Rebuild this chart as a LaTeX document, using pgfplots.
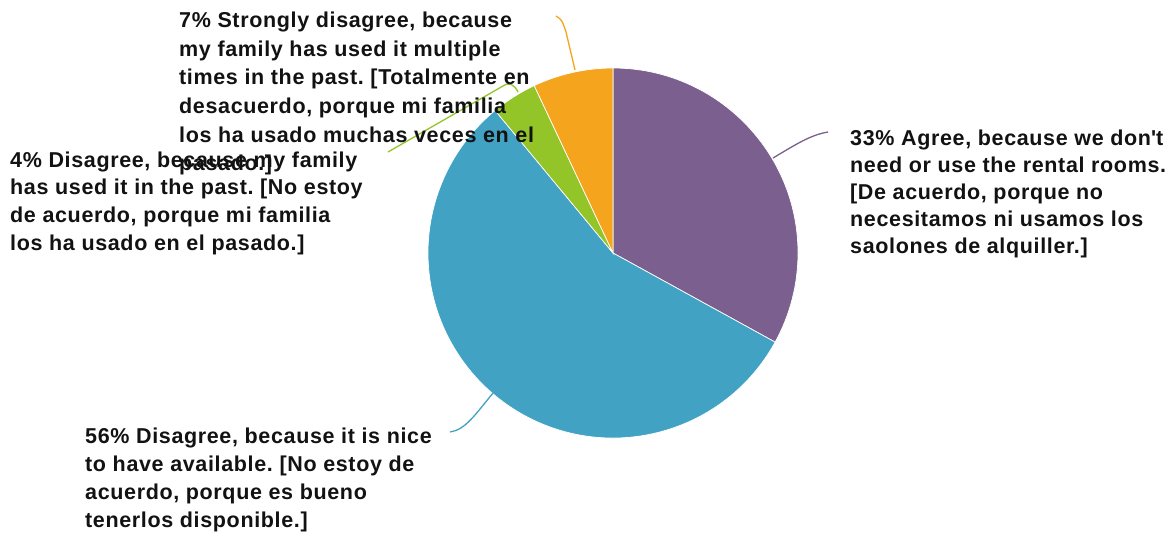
\documentclass[border=0pt]{standalone}
\usepackage{pgfplots}
\pgfplotsset{compat=1.18}
\usepackage{pgfplotstable}
\usepackage{fontspec}
\setmainfont{Liberation Sans}[LetterSpace=3]
\frenchspacing

\definecolor{pieP}{RGB}{123,95,142}
\definecolor{pieB}{RGB}{65,162,195}
\definecolor{pieG}{RGB}{147,197,41}
\definecolor{pieO}{RGB}{244,164,29}

% shares in percent, clockwise from 12 o'clock
\pgfplotstableread{
share
33
56
4
7
}\piedata

\pgfplotstablegetelem{0}{share}\of\piedata \let\pA\pgfplotsretval
\pgfplotstablegetelem{1}{share}\of\piedata \let\pB\pgfplotsretval
\pgfplotstablegetelem{2}{share}\of\piedata \let\pC\pgfplotsretval
\pgfplotstablegetelem{3}{share}\of\piedata \let\pD\pgfplotsretval
\pgfmathsetmacro\aA{90-3.6*\pA}
\pgfmathsetmacro\aB{\aA-3.6*\pB}
\pgfmathsetmacro\aC{\aB-3.6*\pC}
\pgfmathsetmacro\aD{\aC-3.6*\pD}

\newcommand\lbl[3]{\node[anchor=base west, inner sep=0, text=black!93] at (axis cs:#1,#2) {#3};}

\begin{document}
\begin{tikzpicture}
\begin{axis}[
  hide axis, scale only axis,
  width=1174bp, height=537bp,
  xmin=0, xmax=1174, ymin=0, ymax=537,
  y dir=reverse, clip=false,
  font=\bfseries\fontsize{21.5bp}{27.5bp}\selectfont
]
\addplot[draw=none] coordinates {(613,253)};

% slices
\filldraw[pieP, draw=white, line width=0.7bp] (axis cs:613,253) -- ++(90:185bp) arc[start angle=90, end angle=\aA, radius=185bp] -- cycle;
\filldraw[pieB, draw=white, line width=0.7bp] (axis cs:613,253) -- ++(\aA:185bp) arc[start angle=\aA, end angle=\aB, radius=185bp] -- cycle;
\filldraw[pieG, draw=white, line width=0.7bp] (axis cs:613,253) -- ++(\aB:185bp) arc[start angle=\aB, end angle=\aC, radius=185bp] -- cycle;
\filldraw[pieO, draw=white, line width=0.7bp] (axis cs:613,253) -- ++(\aC:185bp) arc[start angle=\aC, end angle=\aD, radius=185bp] -- cycle;

% leader lines
\draw[pieP, line width=1.3bp] (axis cs:773,158) .. controls (axis cs:795,145) and (axis cs:810,135) .. (axis cs:828,132);
\draw[pieB, line width=1.3bp] (axis cs:493,393) .. controls (axis cs:475,415) and (axis cs:465,430) .. (axis cs:450,432);
\draw[pieG, line width=1.3bp] (axis cs:518,92) .. controls (axis cs:514,84) and (axis cs:509,82) .. (axis cs:503,86) -- (axis cs:388,152);
\draw[pieO, line width=1.3bp] (axis cs:575,70) -- (axis cs:566,32) .. controls (axis cs:562,20) .. (axis cs:556,16);

% labels
\lbl{850}{145}{33\% Agree, because we don\textquotesingle t}
\lbl{850}{172}{need or use the rental rooms.}
\lbl{850}{199}{[De acuerdo, porque no}
\lbl{850}{226}{necesitamos ni usamos los}
\lbl{850}{253}{saolones de alquiller.]}

\lbl{85}{443}{56\% Disagree, because it is nice}
\lbl{85}{471}{to have available. [No estoy de}
\lbl{85}{499}{acuerdo, porque es bueno}
\lbl{85}{527}{tenerlos disponible.]}

\lbl{10}{167}{4\% Disagree, because my family}
\lbl{10}{194}{has used it in the past. [No estoy}
\lbl{10}{222}{de acuerdo, porque mi familia}
\lbl{10}{250}{los ha usado en el pasado.]}

\lbl{179}{28}{7\% Strongly disagree, because}
\lbl{179}{57}{my family has used it multiple}
\lbl{179}{85}{times in the past. [Totalmente en}
\lbl{179}{113}{desacuerdo, porque mi familia}
\lbl{179}{142}{los ha usado muchas veces en el}
\lbl{179}{170}{pasado.]}
\end{axis}
\pgfresetboundingbox
\path[use as bounding box] (current axis.south west) rectangle (current axis.north east);
\end{tikzpicture}
\end{document}
